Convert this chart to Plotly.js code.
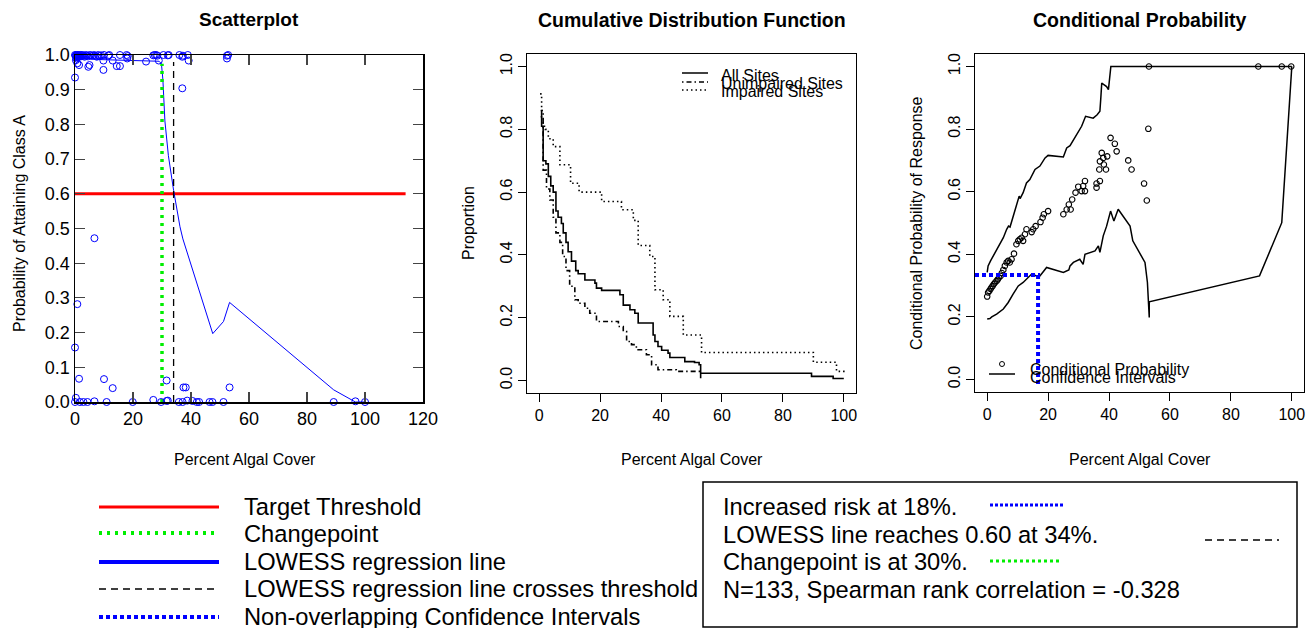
<!DOCTYPE html>
<html>
<head>
<meta charset="utf-8">
<script src="https://cdn.plot.ly/plotly-3.0.1.min.js"></script>
<style>
  html, body { margin: 0; padding: 0; background: #fff; }
  #chart { width: 1306px; height: 628px; }
</style>
</head>
<body>
<div id="chart"></div>
<script>
// Algal cover vs. class A attainment — three panel summary

// ---------- Scatterplot data ----------
const scatX = [0, 0.2, 0.4, 0.5, 0.7, 0.9, 1.0, 1.2, 1.4, 1.6, 1.8, 2.0, 2.3, 2.6, 3.0, 3.3, 3.7, 4.0, 4.5, 5.0,
  5.5, 6.0, 6.5, 7.0, 7.5, 8.0, 8.5, 9.0, 10.0, 11.5, 11.8, 15.5, 17.8, 18.2, 27.0, 27.5, 28.0, 28.4, 30.5, 32.0,
  32.3, 36.0, 37.2, 38.9, 52.4, 52.8,
  0.8, 1.4, 4.6, 5.0, 9.8, 9.8, 13.0, 14.4, 15.5, 18.0, 24.5, 28.9, 37.0, 39.2, 52.4, 0, 37.0, 0.3, 0.5,
  6.7, 0.8, 0, 1.4, 10.0, 13.0, 31.6, 37.4, 38.2, 53.3,
  0, 0.3, 1.7, 2.9, 4.3, 6.7, 10.9, 19.9, 27.0, 29.7, 31.6, 32.0, 35.8, 37.1, 38.7, 40.5, 42.0, 42.8, 46.4, 47.4,
  51.2, 89.2, 96.7, 100];
const scatY = [1.0, 0.998, 0.996, 1.0, 0.994, 0.998, 1.0, 0.995, 0.999, 0.997, 1.0, 0.996, 0.999, 1.0, 0.997, 0.995, 1.0, 0.998, 0.996, 1.0,
  0.999, 0.997, 1.0, 0.998, 0.995, 1.0, 0.997, 0.999, 1.0, 0.998, 1.0, 1.0, 1.0, 0.997, 0.999, 1.0, 1.0, 0.998, 1.0, 0.999,
  1.0, 1.0, 0.998, 1.0, 0.998, 1.0,
  0.976, 0.971, 0.966, 0.971, 0.984, 0.957, 0.984, 0.968, 0.968, 0.99, 0.981, 0.984, 0.995, 0.984, 0.99, 0.935, 0.904, 0.985, 0.99,
  0.472, 0.282, 0.157, 0.067, 0.066, 0.040, 0.062, 0.042, 0.042, 0.042,
  0.0, 0.012, 0.0, 0.0, 0.0, 0.002, 0.0, 0.0, 0.006, 0.0, 0.003, 0.004, 0.0, 0.0, 0.004, 0.003, 0.0, 0.0, 0.0, 0.0,
  0.0, 0.0, 0.002, 0.0];

const lowessX = [0, 2, 5, 8, 12, 18, 24, 29, 29.8, 30.3, 31, 32.2, 34, 36.2, 37.2, 47.5, 51.2, 53.3, 89.2, 96.7, 100];
const lowessY = [1.0, 0.995, 0.99, 0.987, 0.986, 0.985, 0.984, 0.982, 0.975, 0.93, 0.81, 0.71, 0.61, 0.505, 0.47, 0.197, 0.232, 0.287, 0.035, 0.0, 0.0];

const thresholdX = [0, 114];
const thresholdY = [0.6, 0.6];
const changeX = [30, 30];
const changeY = [0, 0.975];
const crossX = [34, 34];
const crossY = [0, 0.98];

// ---------- CDF data (step x, value after step) ----------
const allX = [0.5, 0.8, 1.3, 2.2, 3.0, 3.8, 4.6, 5.5, 6.2, 7.3, 7.9, 8.8, 9.5, 10.6, 12.0, 12.8, 15.0, 18.3, 18.8, 20.5,
  24.8, 26.5, 27.6, 29.8, 31.4, 32.5, 36.3, 37.4, 38.0, 39.0, 40.2, 42.3, 42.9, 46.2, 47.8, 51.0, 52.5, 53.0, 89.4, 96.5, 100];
const allY = [0.86, 0.81, 0.70, 0.69, 0.65, 0.62, 0.60, 0.54, 0.52, 0.50, 0.47, 0.44, 0.41, 0.38, 0.35, 0.34, 0.32, 0.31, 0.294, 0.287,
  0.287, 0.273, 0.24, 0.225, 0.214, 0.183, 0.183, 0.145, 0.124, 0.108, 0.096, 0.087, 0.073, 0.073, 0.06, 0.057, 0.05, 0.023, 0.013, 0.006, 0.006];

const unimpX = [0.5, 1.3, 2.4, 3.5, 4.6, 5.5, 6.8, 7.7, 8.8, 10.0, 11.7, 12.8, 15.0, 16.6, 18.8, 24.8, 26.0, 27.6, 28.7, 30.3,
  31.9, 35.2, 36.9, 39.0, 45.0, 52.7, 53.0];
const unimpY = [0.84, 0.67, 0.61, 0.575, 0.52, 0.47, 0.44, 0.395, 0.35, 0.30, 0.257, 0.246, 0.23, 0.214, 0.188, 0.188, 0.172, 0.156, 0.124, 0.114,
  0.098, 0.082, 0.05, 0.034, 0.029, 0.029, 0.007];

const impX = [0.3, 0.8, 1.3, 2.0, 3.0, 4.6, 6.8, 10.3, 13.1, 20.5, 27.0, 30.9, 32.5, 36.3, 38.0, 40.7, 42.9, 47.3, 53.3, 90.0, 97.6, 100];
const impY = [0.913, 0.86, 0.81, 0.80, 0.77, 0.745, 0.687, 0.628, 0.60, 0.57, 0.544, 0.51, 0.43, 0.395, 0.289, 0.257, 0.204, 0.145, 0.089, 0.058, 0.029, 0.02];

// ---------- Conditional probability data ----------
const cpX = [0, 0.3, 0.7, 1.1, 1.4, 1.8, 2.2, 2.6, 3.1, 3.5, 3.9, 4.4, 4.8, 5.3, 5.8, 6.4, 6.9, 7.4, 8.0, 8.8,
  9.6, 10.2, 10.7, 11.3, 11.8, 12.4, 12.9, 14.6, 15.1, 15.9, 17.5, 18.2, 18.6, 20.0, 25.0, 26.1, 26.8, 27.4, 27.9, 29.0,
  29.9, 31.0, 31.5, 32.1, 32.1, 35.9, 35.9, 37.0, 36.8, 37.0, 37.6, 38.1, 38.3, 39.0, 39.4, 40.5, 41.9, 42.5, 46.3, 47.4,
  51.5, 52.4, 52.9, 53.1, 89.0, 96.7, 99.8];
const cpY = [0.265, 0.278, 0.283, 0.289, 0.294, 0.299, 0.305, 0.31, 0.315, 0.32, 0.326, 0.331, 0.34, 0.35, 0.363, 0.374, 0.379, 0.374, 0.384, 0.402,
  0.432, 0.443, 0.448, 0.453, 0.443, 0.464, 0.48, 0.471, 0.48, 0.49, 0.503, 0.517, 0.528, 0.538, 0.528, 0.543, 0.559, 0.543, 0.575, 0.597,
  0.616, 0.602, 0.618, 0.634, 0.602, 0.613, 0.626, 0.634, 0.671, 0.697, 0.724, 0.708, 0.687, 0.671, 0.713, 0.772, 0.753, 0.729, 0.70, 0.671,
  0.626, 0.572, 0.801, 1.0, 1.0, 1.0, 1.0];

const upX = [0, 0.3, 1.1, 2.0, 3.1, 4.2, 5.3, 6.4, 7.0, 7.5, 8.5, 9.6, 10.5, 10.8, 11.8, 12.9, 14.0, 15.7, 17.3, 19.0,
  20.0, 25.0, 26.1, 27.2, 28.3, 29.9, 31.0, 32.3, 34.8, 36.1, 37.0, 37.3, 37.6, 39.2, 39.8, 40.6, 53.1, 100];
const upY = [0.342, 0.363, 0.379, 0.395, 0.411, 0.432, 0.453, 0.48, 0.49, 0.487, 0.522, 0.559, 0.586, 0.578, 0.597, 0.628, 0.639, 0.671, 0.682, 0.708,
  0.716, 0.711, 0.74, 0.747, 0.766, 0.793, 0.809, 0.841, 0.835, 0.846, 0.857, 0.899, 0.947, 0.936, 0.926, 1.0, 1.0, 1.0];

const loX = [0, 0.9, 1.5, 3.1, 5.3, 6.9, 8.5, 10.2, 11.8, 12.9, 14.6, 16.2, 17.3, 19.5, 25.0, 26.8, 27.2, 28.3, 30.4, 31.5,
  32.1, 35.4, 36.5, 37.0, 38.1, 39.2, 40.5, 41.6, 43.0, 46.9, 47.8, 51.8, 52.6, 53.2, 53.2, 89.4, 96.7, 100];
const loY = [0.193, 0.195, 0.2, 0.209, 0.225, 0.246, 0.273, 0.299, 0.31, 0.32, 0.337, 0.331, 0.331, 0.358, 0.342, 0.35, 0.363, 0.374, 0.384, 0.368,
  0.4, 0.411, 0.427, 0.406, 0.459, 0.49, 0.538, 0.506, 0.544, 0.49, 0.443, 0.374, 0.31, 0.198, 0.248, 0.331, 0.501, 1.0];

const riskX = [-4, 16.7, 16.7];
const riskY = [0.334, 0.334, -0.02];

// ---------- Legend text ----------
const legendLabels = ['Target Threshold', 'Changepoint', 'LOWESS regression line',
  'LOWESS regression line crosses threshold', 'Non-overlapping Confidence Intervals'];
const summaryLines = ['Increased risk at 18%.', 'LOWESS line reaches 0.60 at 34%.',
  'Changepoint is at 30%.', 'N=133, Spearman rank correlation = -0.328'];
const cdfLabels = ['All Sites', 'Unimpaired Sites', 'Impaired Sites'];
const cpLabels = ['Conditional Probability', 'Confidence Intervals'];

// ============================================================
const W = 1306, H = 628;
const px = v => v / W;
const py = v => 1 - v / H;
const FONT = 'Liberation Sans, Arial, sans-serif';

const traces = [
  { x: thresholdX, y: thresholdY, xaxis: 'x', yaxis: 'y', mode: 'lines', line: { color: '#ff0000', width: 3 } },
  { x: lowessX, y: lowessY, xaxis: 'x', yaxis: 'y', mode: 'lines', line: { color: '#0000ff', width: 1 } },
  { x: changeX, y: changeY, xaxis: 'x', yaxis: 'y', mode: 'lines', line: { color: '#00ee00', width: 3.5, dash: '3px,5px' } },
  { x: crossX, y: crossY, xaxis: 'x', yaxis: 'y', mode: 'lines', line: { color: '#000', width: 1.3, dash: '7px,5px' } },
  { x: scatX, y: scatY, xaxis: 'x', yaxis: 'y', mode: 'markers', cliponaxis: false,
    marker: { symbol: 'circle-open', size: 7, color: '#0000ff', line: { width: 1 } } },

  { x: allX, y: allY, xaxis: 'x2', yaxis: 'y2', mode: 'lines', line: { color: '#000', width: 1.6, shape: 'hv' } },
  { x: unimpX, y: unimpY, xaxis: 'x2', yaxis: 'y2', mode: 'lines', line: { color: '#000', width: 1.6, shape: 'hv', dash: '1.5px,3px,5px,3px' } },
  { x: impX, y: impY, xaxis: 'x2', yaxis: 'y2', mode: 'lines', line: { color: '#000', width: 1.6, shape: 'hv', dash: '1.5px,3px' } },

  { x: upX, y: upY, xaxis: 'x3', yaxis: 'y3', mode: 'lines', line: { color: '#000', width: 1.5 } },
  { x: loX, y: loY, xaxis: 'x3', yaxis: 'y3', mode: 'lines', line: { color: '#000', width: 1.5 } },
  { x: cpX, y: cpY, xaxis: 'x3', yaxis: 'y3', mode: 'markers', cliponaxis: false,
    marker: { symbol: 'circle-open', size: 5.5, color: '#000', line: { width: 1.1 } } },
  { x: riskX, y: riskY, xaxis: 'x3', yaxis: 'y3', mode: 'lines', cliponaxis: false,
    line: { color: '#0000ff', width: 4, dash: '4px,3px' } }
];

const scatAxis = {
  showline: true, linecolor: '#000', linewidth: 1.5, mirror: 'allticks',
  ticks: 'inside', ticklen: 10, tickwidth: 1.2, tickcolor: '#444',
  showgrid: false, zeroline: false,
  tickfont: { family: FONT, size: 18, color: '#000' }
};
const rAxis = {
  showline: true, linecolor: '#000', linewidth: 1, mirror: true,
  ticks: 'outside', ticklen: 8, tickwidth: 1, tickcolor: '#000',
  showgrid: false, zeroline: false,
  tickfont: { family: FONT, size: 16, color: '#000' }
};

const annText = (x, y, text, size, opts) => Object.assign({
  x: px(x), y: py(y), xref: 'paper', yref: 'paper', text: text, showarrow: false,
  font: { family: FONT, size: size, color: '#000' }, xanchor: 'center', yanchor: 'middle'
}, opts || {});

const annotations = [
  annText(249, 20, '<b>Scatterplot</b>', 19),
  annText(692, 20, '<b>Cumulative Distribution Function</b>', 19.5),
  annText(1140, 20, '<b>Conditional Probability</b>', 19.5),
  annText(245, 460, 'Percent Algal Cover', 16),
  annText(692, 460, 'Percent Algal Cover', 16),
  annText(1140, 460, 'Percent Algal Cover', 16),
  annText(20, 224, 'Probability of Attaining Class A', 16, { textangle: -90 }),
  annText(469, 223, 'Proportion', 16, { textangle: -90 }),
  annText(917, 223, 'Conditional Probability of Response', 16, { textangle: -90 })
];

// legend under the scatterplot
const legY = [507, 534, 562, 589, 617];
legendLabels.forEach((t, i) => annotations.push(annText(242, legY[i], t, 23.7, { xanchor: 'left' })));
// summary box
const sumY = [507, 535, 562, 590];
summaryLines.forEach((t, i) => annotations.push(annText(721, sumY[i], t, 23.7, { xanchor: 'left' })));
// CDF legend
const cdfY = [75, 84, 92];
cdfLabels.forEach((t, i) => annotations.push(annText(719, cdfY[i], t, 16, { xanchor: 'left' })));
// cond. prob legend
const cpLY = [369, 377];
cpLabels.forEach((t, i) => annotations.push(annText(1028, cpLY[i], t, 16, { xanchor: 'left' })));

const seg = (x0, x1, y, color, width, dash) => ({
  type: 'line', xref: 'paper', yref: 'paper', x0: px(x0), x1: px(x1), y0: py(y), y1: py(y),
  line: { color: color, width: width, dash: dash || 'solid' }
});

const shapes = [
  seg(99, 219, 507, '#ff0000', 3),
  seg(99, 219, 533, '#00ee00', 4, '3px,5px'),
  seg(99, 219, 562, '#0000ff', 4),
  seg(99, 219, 589, '#000', 1.3, '7px,5px'),
  seg(99, 219, 617, '#0000ff', 4, '4px,3px'),
  { type: 'rect', xref: 'paper', yref: 'paper', x0: px(703), x1: px(1297), y0: py(482), y1: py(627),
    line: { color: '#000', width: 1.5 } },
  seg(990, 1065, 505, '#0000ff', 3, '3px,2px'),
  seg(1205, 1279, 540, '#000', 1.3, '7px,5px'),
  seg(990, 1060, 561, '#00ee00', 3, '3px,3px'),
  seg(682, 708, 73, '#000', 1.5),
  seg(682, 708, 82, '#000', 1.5, '1.5px,3px,5px,3px'),
  seg(682, 708, 90, '#000', 1.5, '1.5px,3px'),
  { type: 'circle', xref: 'paper', yref: 'paper', x0: px(999.5), x1: px(1004.5), y0: py(361.5), y1: py(366.5),
    line: { color: '#000', width: 1 } },
  seg(989, 1015, 374, '#000', 1.5)
];

const layout = {
  width: W, height: H,
  margin: { l: 0, r: 0, t: 0, b: 0 },
  paper_bgcolor: '#fff', plot_bgcolor: '#fff',
  showlegend: false,
  font: { family: FONT, color: '#000' },
  xaxis: Object.assign({}, scatAxis, { domain: [px(75), px(423)], range: [0, 120], tickvals: [0, 20, 40, 60, 80, 100, 120], anchor: 'y' }),
  yaxis: Object.assign({}, scatAxis, { domain: [py(402), py(55)], range: [0, 1], dtick: 0.1, tickformat: '.1f', anchor: 'x' }),
  xaxis2: Object.assign({}, rAxis, { domain: [px(527), px(856)], range: [-4, 104], tickvals: [0, 20, 40, 60, 80, 100], anchor: 'y2' }),
  yaxis2: Object.assign({}, rAxis, { domain: [py(393), py(54)], range: [-0.04, 1.04], tickvals: [0, 0.2, 0.4, 0.6, 0.8, 1.0], tickformat: '.1f', tickangle: -90, anchor: 'x2' }),
  xaxis3: Object.assign({}, rAxis, { domain: [px(975), px(1304)], range: [-4, 104], tickvals: [0, 20, 40, 60, 80, 100], anchor: 'y3' }),
  yaxis3: Object.assign({}, rAxis, { domain: [py(392), py(54)], range: [-0.04, 1.04], tickvals: [0, 0.2, 0.4, 0.6, 0.8, 1.0], tickformat: '.1f', tickangle: -90, anchor: 'x3' }),
  annotations: annotations,
  shapes: shapes
};

Plotly.newPlot('chart', traces, layout, { displayModeBar: false, staticPlot: true });
</script>
</body>
</html>
